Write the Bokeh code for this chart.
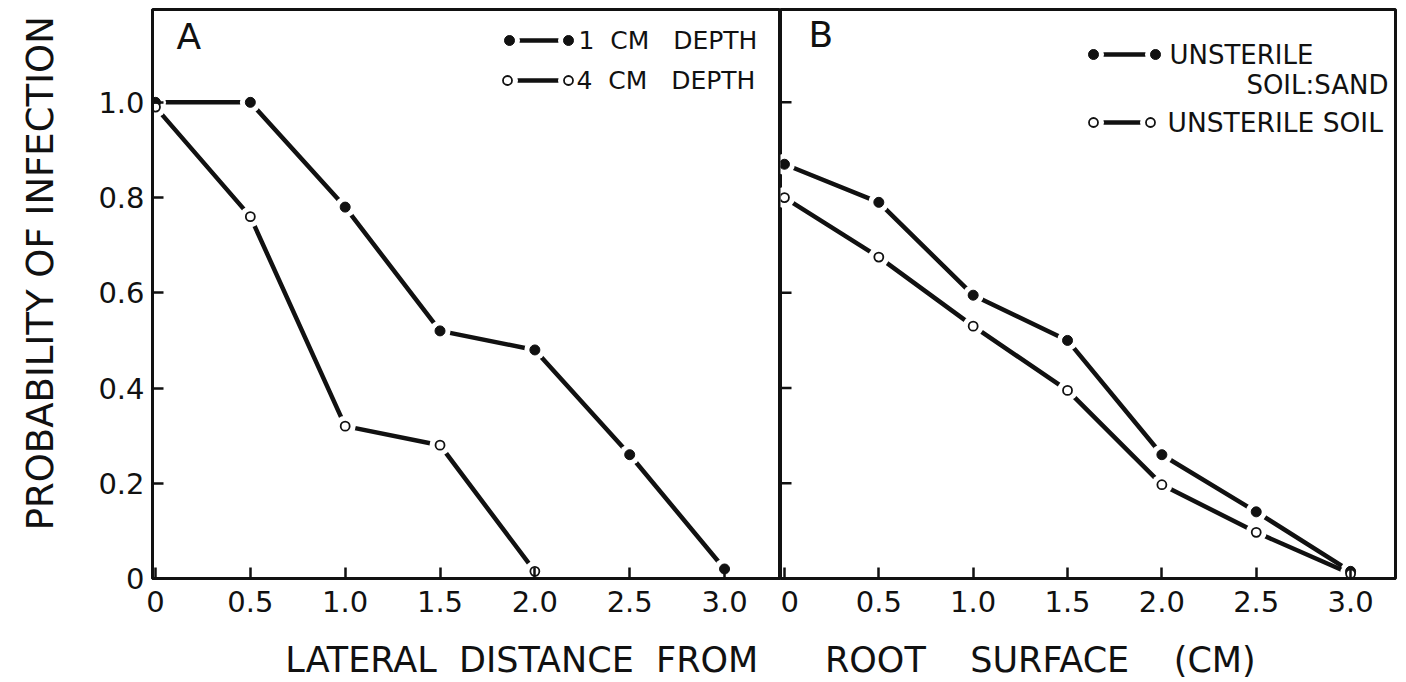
import math
from bokeh.plotting import figure
from bokeh.layouts import row, column
from bokeh.models import Label, FixedTicker, Range1d
from bokeh.embed import file_html
from bokeh.resources import INLINE

# ---------------- data ----------------
x_dist = [0, 0.5, 1.0, 1.5, 2.0, 2.5, 3.0]
a_1cm_depth = [1.0, 1.0, 0.78, 0.52, 0.48, 0.26, 0.02]
a_4cm_x = [0, 0.5, 1.0, 1.5, 2.0]
a_4cm_depth = [0.99, 0.76, 0.32, 0.28, 0.015]
b_soil_sand = [0.87, 0.79, 0.595, 0.50, 0.26, 0.14, 0.015]
b_soil = [0.80, 0.675, 0.53, 0.395, 0.197, 0.097, 0.01]

x_ticks = [0, 0.5, 1.0, 1.5, 2.0, 2.5, 3.0]
x_tick_labels = ["0", "0.5", "1.0", "1.5", "2.0", "2.5", "3.0"]
y_ticks = [0, 0.2, 0.4, 0.6, 0.8, 1.0]
y_tick_labels = ["0", "0.2", "0.4", "0.6", "0.8", "1.0"]
b_y_ticks = [0.2, 0.4, 0.6, 0.8, 1.0]

NB = "\u00a0"
legend_a = ["1" + NB * 2 + "CM" + NB * 3 + "DEPTH", "4" + NB * 2 + "CM" + NB * 3 + "DEPTH"]
legend_b = ["UNSTERILE", "SOIL:SAND", "UNSTERILE SOIL"]
x_title = ("LATERAL" + NB * 2 + "DISTANCE" + NB * 2 + "FROM" + NB * 6 +
           "ROOT" + NB * 4 + "SURFACE" + NB * 4 + "(CM)")
y_title = "PROBABILITY" + NB + "OF" + NB + "INFECTION"

# ---------------- layout constants ----------------
FONT = "DejaVu Sans"
INK = "#111111"
PANEL_H = 630
BOT_H = 52
YT_W = 70
A_W = 710
B_W = 626
TOP = 9
BOTTOM = 52
A_LEFT = 82
B_RIGHT = 11
TICK = 11

XA = (-0.0158, 3.295)
XB = (-0.021, 3.238)
YR = (0.0, 1.195)

A_FRAME = (YT_W + A_LEFT, YT_W + A_W)          # canvas px
B_FRAME = (YT_W + A_W, YT_W + A_W + B_W - B_RIGHT)
FRAME_T, FRAME_B = TOP, PANEL_H - BOTTOM


def to_data(px, py, frame, xr):
    x = xr[0] + (px - frame[0]) / (frame[1] - frame[0]) * (xr[1] - xr[0])
    y = YR[0] + (FRAME_B - py) / (FRAME_B - FRAME_T) * (YR[1] - YR[0])
    return x, y


def style_axis(ax):
    ax.axis_line_color = INK
    ax.axis_line_width = 3
    ax.major_tick_in = TICK
    ax.major_tick_out = 0
    ax.major_tick_line_width = 2.5
    ax.major_tick_line_color = INK
    ax.minor_tick_line_color = None
    ax.major_label_text_font = FONT
    ax.major_label_text_font_size = "29px"
    ax.major_label_text_color = INK


def make_panel(width, xr, min_left, min_right, with_yaxis):
    p = figure(width=width, height=PANEL_H, x_range=Range1d(*xr), y_range=Range1d(*YR),
               output_backend="svg", toolbar_location=None,
               min_border_left=min_left, min_border_right=min_right,
               min_border_top=TOP, min_border_bottom=BOTTOM)
    p.grid.visible = False
    p.outline_line_color = INK
    p.outline_line_width = 3
    p.background_fill_color = "white"
    p.border_fill_color = "white"
    style_axis(p.xaxis[0])
    p.xaxis.ticker = FixedTicker(ticks=x_ticks)
    p.xaxis.major_label_overrides = {t: l for t, l in zip(x_ticks, x_tick_labels)}
    p.xaxis.major_label_standoff = 12
    if with_yaxis:
        style_axis(p.yaxis[0])
        p.yaxis.ticker = FixedTicker(ticks=y_ticks)
        p.yaxis.major_label_overrides = {t: l for t, l in zip(y_ticks, y_tick_labels)}
        p.yaxis.major_label_standoff = 8
    else:
        p.yaxis.visible = False
    return p


def draw_series(p, xs, ys):
    p.line(xs, ys, line_color=INK, line_width=4.5)
    p.scatter(xs, ys, size=21, fill_color="white", line_color=None)


def draw_markers(p, xs, ys, filled):
    if filled:
        p.scatter(xs, ys, size=10, fill_color=INK, line_color=INK, line_width=1)
    else:
        p.scatter(xs, ys, size=9, fill_color="white", line_color=INK, line_width=1.8)


def legend_key(p, frame, xr, px1, px2, py, filled):
    x1, y = to_data(px1, py, frame, xr)
    x2, _ = to_data(px2, py, frame, xr)
    draw_series(p, [x1, x2], [y, y])
    draw_markers(p, [x1, x2], [y, y], filled)


def text(p, frame, xr, px, py, s, size, align="left"):
    x, y = to_data(px, py, frame, xr)
    p.add_layout(Label(x=x, y=y, text=s, text_font=FONT, text_font_size=size,
                       text_color=INK, text_align=align, text_baseline="middle"))


# ---------------- panel A ----------------
pa = make_panel(A_W, XA, A_LEFT, 0, True)
draw_series(pa, x_dist, a_1cm_depth)
draw_series(pa, a_4cm_x, a_4cm_depth)
draw_markers(pa, x_dist, a_1cm_depth, True)
draw_markers(pa, a_4cm_x, a_4cm_depth, False)
legend_key(pa, A_FRAME, XA, 509, 568, 40, True)
legend_key(pa, A_FRAME, XA, 507, 568, 80, False)
text(pa, A_FRAME, XA, 578, 40, legend_a[0], "25px")
text(pa, A_FRAME, XA, 576, 80, legend_a[1], "25px")
text(pa, A_FRAME, XA, 176, 36, "A", "36px")

# ---------------- panel B ----------------
pb = make_panel(B_W, XB, 0, B_RIGHT, False)
# inward ticks on the shared left edge of panel B
tick_len = TICK / (B_FRAME[1] - B_FRAME[0]) * (XB[1] - XB[0])
pb.segment(x0=[XB[0]] * len(b_y_ticks), y0=b_y_ticks,
           x1=[XB[0] + tick_len] * len(b_y_ticks), y1=b_y_ticks,
           line_color=INK, line_width=2.5)
draw_series(pb, x_dist, b_soil_sand)
draw_series(pb, x_dist, b_soil)
draw_markers(pb, x_dist, b_soil_sand, True)
draw_markers(pb, x_dist, b_soil, False)
legend_key(pb, B_FRAME, XB, 1093, 1155, 54, True)
legend_key(pb, B_FRAME, XB, 1093, 1150, 122, False)
text(pb, B_FRAME, XB, 1169, 54, legend_b[0], "26px")
text(pb, B_FRAME, XB, 1388, 84, legend_b[1], "26px", align="right")
text(pb, B_FRAME, XB, 1167, 122, legend_b[2], "26.5px")
text(pb, B_FRAME, XB, 808, 34, "B", "36px")

# ---------------- title strips ----------------
def blank(width, height):
    f = figure(width=width, height=height, x_range=Range1d(0, width), y_range=Range1d(0, height),
               output_backend="svg", toolbar_location=None, min_border=0)
    f.axis.visible = False
    f.grid.visible = False
    f.outline_line_color = None
    f.background_fill_color = "white"
    f.border_fill_color = "white"
    return f

pyt = blank(YT_W, PANEL_H)
pyt.add_layout(Label(x=40, y=PANEL_H - 292, text=y_title, angle=math.pi / 2,
                     text_font=FONT, text_font_size="37px", text_color=INK,
                     text_align="center", text_baseline="middle"))

pxt = blank(YT_W + A_W + B_W, BOT_H)
pxt.add_layout(Label(x=770, y=BOT_H - 29, text=x_title, text_font=FONT,
                     text_font_size="35px", text_color=INK,
                     text_align="center", text_baseline="middle"))

layout = column(row(pyt, pa, pb), pxt)
open("out.html", "w").write(file_html(layout, INLINE))
